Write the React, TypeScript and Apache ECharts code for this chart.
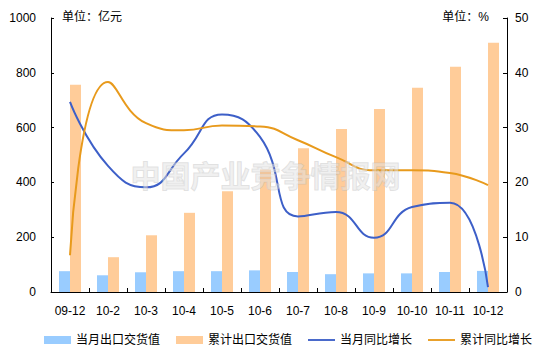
import React, { useEffect, useRef } from "react";
import * as echarts from "echarts";

const categories = ["09-12", "10-2", "10-3", "10-4", "10-5", "10-6", "10-7", "10-8", "10-9", "10-10", "10-11", "10-12"];
const monthlyValue = [76, 61, 72, 76, 76, 79, 73, 65, 68, 68, 73, 77];
const cumulativeValue = [756, 127, 207, 289, 368, 447, 525, 595, 668, 745, 822, 910];
const monthlyGrowth = [34.7, 23.0, 19.1, 25.3, 32.4, 28.3, 13.8, 14.6, 9.9, 15.5, 16.3, 0.9];
const cumulativeGrowth = [6.7, 38.3, 30.8, 29.5, 30.4, 30.2, 27.7, 24.6, 22.2, 22.2, 21.7, 19.5];
const leftTicks = [0, 1000, 200];
const rightTicks = [0, 50, 10];

const FONT = "'Liberation Sans', Arial, 'Noto Sans CJK SC', sans-serif";
const LINE_ICON = "path://M0,0L29,0L29,2L0,2Z";

export default function App() {
  const ref = useRef<HTMLDivElement>(null);
  useEffect(() => {
    document.body.style.margin = "0";
    if (!ref.current) return;
    const chart = echarts.init(ref.current, undefined, { renderer: "svg" });
    const axisLine = { show: true, lineStyle: { color: "#000", width: 1 } };
    chart.setOption({
      animation: false,
      backgroundColor: "#fff",
      textStyle: { fontFamily: FONT },
      grid: { left: 51, right: 37, top: 18, bottom: 62, containLabel: false },
      legend: {
        left: 39,
        top: 329,
        itemGap: 16,
        itemWidth: 27,
        itemHeight: 8,
        itemStyle: { borderWidth: 0 },
        textStyle: { fontSize: 12, color: "#000", fontFamily: FONT },
        data: [
          { name: "当月出口交货值", icon: "rect" },
          { name: "累计出口交货值", icon: "rect" },
          { name: "当月同比增长", icon: LINE_ICON },
          { name: "累计同比增长", icon: LINE_ICON },
        ],
      },
      xAxis: {
        type: "category",
        data: categories,
        axisLine,
        axisTick: { show: true, inside: true, length: 4, lineStyle: { color: "#000" } },
        axisLabel: { color: "#000", fontSize: 12, margin: 13, fontFamily: FONT, interval: 0 },
        splitLine: { show: false },
      },
      yAxis: [
        {
          type: "value",
          min: leftTicks[0],
          max: leftTicks[1],
          interval: leftTicks[2],
          axisLine,
          axisTick: { show: true, inside: true, length: 3, lineStyle: { color: "#000" } },
          axisLabel: { color: "#000", fontSize: 12, margin: 15, fontFamily: FONT, formatter: (v: number) => String(v) },
          splitLine: { show: false },
        },
        {
          type: "value",
          min: rightTicks[0],
          max: rightTicks[1],
          interval: rightTicks[2],
          position: "right",
          axisLine,
          axisTick: { show: true, inside: true, length: 4, lineStyle: { color: "#000" } },
          axisLabel: { color: "#000", fontSize: 12, margin: 8, fontFamily: FONT, formatter: (v: number) => String(v) },
          splitLine: { show: false },
        },
      ],
      series: [
        {
          name: "当月出口交货值",
          type: "bar",
          data: monthlyValue,
          yAxisIndex: 0,
          barWidth: 11,
          barGap: "0%",
          itemStyle: { color: "#99CCFF" },
        },
        {
          name: "累计出口交货值",
          type: "bar",
          data: cumulativeValue,
          yAxisIndex: 0,
          barWidth: 11,
          barGap: "0%",
          itemStyle: { color: "#FFCC99" },
        },
        {
          name: "当月同比增长",
          type: "line",
          data: monthlyGrowth,
          yAxisIndex: 1,
          smooth: 0.5,
          symbol: "none",
          lineStyle: { color: "#3D5FC8", width: 2 },
          itemStyle: { color: "#3D5FC8" },
          z: 3,
        },
        {
          name: "累计同比增长",
          type: "line",
          data: cumulativeGrowth,
          yAxisIndex: 1,
          smooth: 0.5,
          symbol: "none",
          lineStyle: { color: "#E89A1C", width: 2 },
          itemStyle: { color: "#E89A1C" },
          z: 3,
        },
      ],
      graphic: [
        {
          type: "text",
          left: 62,
          top: 11,
          style: { text: "单位：亿元", fill: "#000", font: "12px " + FONT },
        },
        {
          type: "text",
          right: 55,
          top: 11,
          style: { text: "单位：%", fill: "#000", font: "12px " + FONT },
        },
        {
          type: "text",
          left: 130,
          top: 158,
          z: 100,
          style: {
            text: "中国产业竞争情报网",
            font: "bold 30px 'Noto Sans CJK SC', sans-serif",
            fill: "rgba(225,225,225,0.5)",
            stroke: "rgba(170,170,170,0.35)",
            lineWidth: 1,
          },
        },
      ],
    });
    return () => chart.dispose();
  }, []);
  return <div ref={ref} style={{ width: 544, height: 354 }} />;
}
